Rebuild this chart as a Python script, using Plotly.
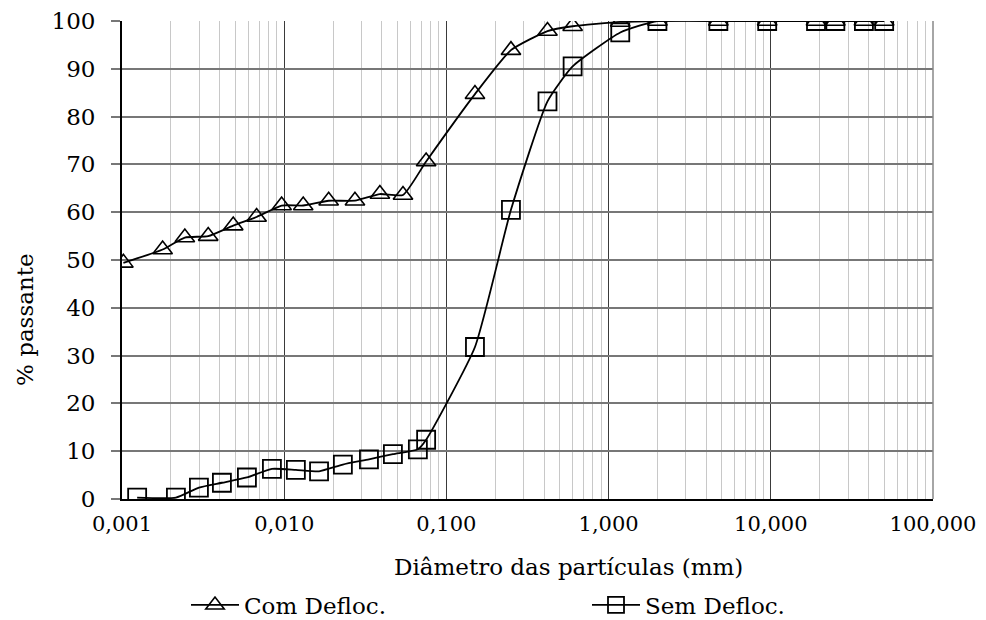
import plotly.graph_objects as go

com_x = [0.00102, 0.00178, 0.00244, 0.0034, 0.00485, 0.00676, 0.00964, 0.0131, 0.0188, 0.0273,
         0.0389, 0.054, 0.075, 0.15, 0.25, 0.42, 0.6, 1.18, 2.0, 4.75, 9.5, 19.0, 25.0, 37.5, 50.0]
com_y = [49.4, 52.2, 54.7, 55.0, 57.2, 59.0, 61.4, 61.4, 62.4, 62.4,
         63.8, 63.6, 70.6, 84.7, 93.9, 97.9, 98.9, 99.8, 100, 100, 100, 100, 100, 100, 100]

sem_x = [0.00124, 0.00215, 0.00298, 0.00413, 0.00589, 0.0084, 0.0118, 0.0164, 0.023, 0.0333,
         0.0468, 0.0667, 0.075, 0.15, 0.25, 0.42, 0.6, 1.18, 2.0, 4.75, 9.5, 19.0, 25.0, 37.5, 50.0]
sem_y = [0.3, 0.3, 2.4, 3.4, 4.5, 6.3, 6.1, 5.8, 7.2, 8.3,
         9.4, 10.4, 12.4, 31.8, 60.5, 83.2, 90.5, 97.6, 100, 100, 100, 100, 100, 100, 100]

x_tickvals = [0.001, 0.01, 0.1, 1, 10, 100]
x_ticktext = ["0,001", "0,010", "0,100", "1,000", "10,000", "100,000"]
y_tickvals = [0, 10, 20, 30, 40, 50, 60, 70, 80, 90, 100]

FONT = "DejaVu Serif"
FS = 23

W, H = 978, 612  # page body has an 8px margin
fig = go.Figure()
fig.add_trace(go.Scatter(
    x=com_x, y=com_y, name="Com Defloc.", mode="lines+markers", legend="legend",
    line=dict(color="black", width=1.8, shape="spline", smoothing=0.5),
    marker=dict(symbol="triangle-up-open", size=17, color="black", line=dict(width=1.6, color="black")),
))
fig.add_trace(go.Scatter(
    x=sem_x, y=sem_y, name="Sem Defloc.", mode="lines+markers", legend="legend2",
    line=dict(color="black", width=1.8, shape="spline", smoothing=0.5),
    marker=dict(symbol="square-open", size=18, color="black", line=dict(width=1.8, color="black")),
))

leg_common = dict(orientation="h", yref="container", y=15 / H, yanchor="middle", xref="container",
                  xanchor="left", font=dict(family=FONT, size=FS, color="black"),
                  bgcolor="rgba(0,0,0,0)", itemwidth=48)

fig.update_layout(
    width=W, height=H,
    margin=dict(l=114, r=53, t=13, b=H - 13 - 478, autoexpand=False),
    paper_bgcolor="white", plot_bgcolor="white",
    font=dict(family=FONT, size=FS, color="black"),
    showlegend=True,
    legend=dict(leg_common, x=178 / W),
    legend2=dict(leg_common, x=579 / W),
    shapes=[dict(type="line", xref="paper", yref="paper", x0=1, x1=1, y0=0, y1=1,
                 line=dict(color="#888888", width=1.5))],
    annotations=[
        dict(text="Diâmetro das partículas (mm)", xref="paper", yref="paper",
             x=(568 - 122) / 811, y=(499 - 567) / 478, xanchor="center", yanchor="middle",
             showarrow=False, font=dict(family=FONT, size=FS, color="black")),
        dict(text="% passante", xref="paper", yref="paper",
             x=(25 - 122) / 811, y=(499 - 320) / 478, xanchor="center", yanchor="middle",
             textangle=-90, showarrow=False, font=dict(family=FONT, size=FS, color="black")),
    ],
)

fig.update_xaxes(
    type="log", range=[-3, 2], automargin=False,
    tickvals=x_tickvals, ticktext=x_ticktext, ticklabeloverflow="allow",
    tickfont=dict(family=FONT, size=21, color="black"),
    showgrid=True, gridcolor="#3a3a3a", gridwidth=1.2,
    minor=dict(dtick="D1", showgrid=True, gridcolor="#c8c8c8", gridwidth=1),
    showline=True, linecolor="black", linewidth=1.8,
    ticks="", ticklabelstandoff=5, zeroline=False,
)
fig.update_yaxes(
    range=[0, 100], tickvals=y_tickvals, automargin=False, ticklabeloverflow="allow",
    showgrid=True, gridcolor="#777777", gridwidth=1.5,
    showline=True, linecolor="black", linewidth=1.8,
    ticks="outside", ticklen=9, tickcolor="#777777", tickwidth=1.5,
    ticklabelstandoff=11, zeroline=False,
)

fig.write_html("out.html")
